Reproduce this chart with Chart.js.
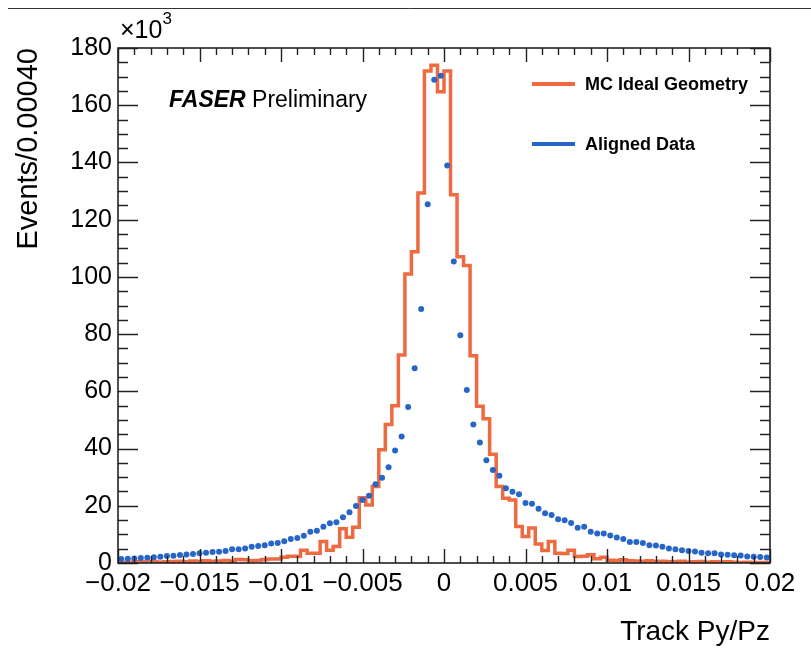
<!DOCTYPE html>
<html>
<head>
<meta charset="utf-8">
<script src="https://cdn.jsdelivr.net/npm/chart.js@4.4.0/dist/chart.umd.min.js"></script>
<style>
  html, body { margin: 0; padding: 0; background: #fff; }
  #wrap { width: 811px; height: 651px; }
</style>
</head>
<body>
<div id="wrap"><canvas id="chart" width="811" height="651"></canvas></div>
<script>
// binning: 100 bins of 0.0004 from -0.02 to 0.02
const binLow = -0.02;
const binWidth = 0.0004;

// MC ideal geometry, events per bin (x10^3)
const mcCounts = [
  0.2, 0.3, 0.2, 0.3, 0.4, 0.3, 0.5, 0.3, 0.4, 0.5,
  0.6, 0.4, 0.7, 0.5, 0.8, 0.6, 0.7, 0.9, 0.6, 1.2,
  1.1, 0.8, 0.9, 1.2, 1.4, 1.4, 2.0, 2.4, 2.4, 4.5,
  3.4, 3.4, 7.5, 4.5, 5.8, 12.0, 9.0, 12.5, 22.8, 20.3,
  26.7, 39.6, 48.4, 55.0, 72.7, 101.0, 108.8, 129.3, 172.0, 174.0,
  164.7, 172.0, 128.7, 107.0, 104.0, 72.4, 54.8, 50.4, 38.0, 26.7,
  22.6, 22.0, 12.8, 9.3, 12.2, 6.6, 4.4, 7.5, 3.4, 3.3,
  4.5, 2.3, 2.4, 2.9, 1.5, 2.0, 1.0, 0.9, 1.1, 0.8,
  0.7, 0.6, 0.8, 0.5, 0.6, 0.4, 0.5, 0.6, 0.3, 0.4,
  0.5, 0.3, 0.4, 0.3, 0.4, 0.3, 0.2, 0.3, 0.2, 0.2
];

// aligned data, events per bin (x10^3)
const dataCounts = [
  1.4, 1.5, 1.6, 1.75, 1.85, 2.0, 2.2, 2.45, 2.55, 2.8,
  3.0, 3.15, 3.4, 3.6, 3.85, 3.95, 4.2, 4.8, 4.8, 5.1,
  5.7, 5.95, 6.2, 6.85, 7.0, 7.6, 8.4, 8.75, 9.55, 10.95,
  11.3, 12.7, 13.9, 14.2, 16.0, 17.7, 19.9, 22.0, 23.5, 27.5,
  29.8, 33.5, 39.3, 44.2, 54.5, 68.1, 88.8, 125.4, 168.9, 170.3,
  138.9, 105.4, 79.6, 60.5, 48.4, 42.1, 35.9, 32.5, 30.5, 26.1,
  24.9, 24.0, 21.0, 20.7, 19.0, 17.4, 16.8, 15.3, 14.9, 14.0,
  12.3, 12.7, 10.9, 10.3, 10.3, 9.6, 8.9, 8.4, 7.3, 7.3,
  7.0, 6.2, 6.1, 5.7, 5.1, 4.8, 4.5, 4.2, 4.0, 3.6,
  3.4, 3.4, 3.0, 2.9, 2.7, 2.6, 2.3, 2.2, 2.1, 1.9
];

const xTickValues = [-0.02, -0.015, -0.01, -0.005, 0, 0.005, 0.01, 0.015, 0.02];
const xTickLabels = ['\u22120.02', '\u22120.015', '\u22120.01', '\u22120.005', '0', '0.005', '0.01', '0.015', '0.02'];
const yTickValues = [0, 20, 40, 60, 80, 100, 120, 140, 160, 180];

const seriesLabels = ['MC Ideal Geometry', 'Aligned Data'];
const seriesColors = ['#ee6a40', '#2766c8'];

// histogram outline: one point per left bin edge, plus closing edge
const mcSteps = mcCounts.map((v, i) => ({ x: binLow + i * binWidth, y: v }));
mcSteps.push({ x: binLow + mcCounts.length * binWidth, y: mcCounts[mcCounts.length - 1] });

const dataPoints = dataCounts.map((v, i) => ({ x: binLow + (i + 0.5) * binWidth, y: v }));

const FONT = "'Liberation Sans', Arial, Helvetica, sans-serif";

// ROOT-like frame, inward ticks, legend and labels
const rootStyle = {
  id: 'rootStyle',
  beforeDraw(chart) {
    const ctx = chart.ctx;
    ctx.save();
    ctx.fillStyle = '#fff';
    ctx.fillRect(0, 0, chart.width, chart.height);
    ctx.strokeStyle = '#333';
    ctx.lineWidth = 1;
    ctx.beginPath();
    ctx.moveTo(8, 8.5);
    ctx.lineTo(chart.width, 8.5);
    ctx.stroke();
    ctx.restore();
  },
  afterDatasetsDraw(chart) {
    const { ctx, chartArea: a, scales: { x, y } } = chart;
    ctx.save();
    ctx.strokeStyle = '#222';
    ctx.lineWidth = 1.4;
    ctx.beginPath();
    // x ticks every 0.001, major every 0.005
    for (let k = 0; k <= 40; k++) {
      const px = Math.round(x.getPixelForValue(-0.02 + k * 0.001)) + 0.5;
      const len = k % 5 === 0 ? 14 : 7;
      ctx.moveTo(px, a.bottom); ctx.lineTo(px, a.bottom - len);
      ctx.moveTo(px, a.top); ctx.lineTo(px, a.top + len);
    }
    // y ticks every 5, major every 20
    for (let v = 0; v <= 180; v += 5) {
      const py = Math.round(y.getPixelForValue(v)) + 0.5;
      const len = v % 20 === 0 ? 20 : 10;
      ctx.moveTo(a.left, py); ctx.lineTo(a.left + len, py);
      ctx.moveTo(a.right, py); ctx.lineTo(a.right - len, py);
    }
    ctx.stroke();
    ctx.lineWidth = 1.6;
    ctx.strokeRect(a.left, a.top, a.right - a.left, a.bottom - a.top);

    // legend
    const rows = [84, 144];
    ctx.lineWidth = 4;
    ctx.textBaseline = 'middle';
    ctx.textAlign = 'left';
    ctx.font = 'bold 18px ' + FONT;
    rows.forEach((ry, i) => {
      ctx.strokeStyle = seriesColors[i];
      ctx.beginPath();
      ctx.moveTo(532, ry); ctx.lineTo(575, ry);
      ctx.stroke();
      ctx.fillStyle = '#000';
      ctx.fillText(seriesLabels[i], 585, ry + 1);
    });

    // FASER Preliminary
    ctx.textBaseline = 'alphabetic';
    ctx.font = 'italic bold 23px ' + FONT;
    ctx.fillText('FASER', 169, 107);
    const w = ctx.measureText('FASER ').width;
    ctx.font = '23px ' + FONT;
    ctx.fillText('Preliminary', 169 + w, 107);

    // exponent label
    ctx.font = '25px ' + FONT;
    ctx.fillText('\u00d710', 120, 38);
    const ew = ctx.measureText('\u00d710').width;
    ctx.font = '17px ' + FONT;
    ctx.fillText('3', 120 + ew, 24);
    ctx.restore();
  }
};

const ctx = document.getElementById('chart').getContext('2d');
const chart = new Chart(ctx, {
  data: {
    datasets: [
      {
        type: 'scatter',
        label: seriesLabels[1],
        data: dataPoints,
        pointRadius: 3,
        pointBackgroundColor: seriesColors[1],
        pointBorderWidth: 0,
        order: 0
      },
      {
        type: 'line',
        label: seriesLabels[0],
        data: mcSteps,
        stepped: 'after',
        borderColor: seriesColors[0],
        borderWidth: 3.5,
        pointRadius: 0,
        fill: false,
        order: 1
      }
    ]
  },
  options: {
    responsive: false,
    animation: false,
    layout: { padding: { left: 0, top: 48, right: 41, bottom: 0 } },
    plugins: {
      legend: { display: false },
      tooltip: { enabled: false }
    },
    scales: {
      x: {
        type: 'linear',
        min: -0.02,
        max: 0.02,
        afterBuildTicks: s => { s.ticks = xTickValues.map(v => ({ value: v })); },
        afterFit: s => { s.height = 88; },
        grid: { display: false, drawTicks: false },
        border: { display: false },
        ticks: {
          autoSkip: false,
          maxRotation: 0,
          minRotation: 0,
          padding: 5,
          color: '#000',
          font: { family: FONT, size: 26 },
          callback: (v) => {
            const i = xTickValues.findIndex(t => Math.abs(t - v) < 1e-9);
            return i >= 0 ? xTickLabels[i] : '';
          }
        },
        title: {
          display: true,
          text: 'Track Py/Pz',
          align: 'end',
          color: '#000',
          font: { family: FONT, size: 28 },
          padding: { top: 0, bottom: 2 }
        }
      },
      y: {
        type: 'linear',
        min: 0,
        max: 180,
        afterBuildTicks: s => { s.ticks = yTickValues.map(v => ({ value: v })); },
        afterFit: s => { s.width = 118; },
        grid: { display: false, drawTicks: false },
        border: { display: false },
        ticks: {
          padding: 6,
          color: '#000',
          font: { family: FONT, size: 25 },
          callback: v => String(v)
        },
        title: {
          display: true,
          text: 'Events/0.00040',
          align: 'end',
          color: '#000',
          font: { family: FONT, size: 29 },
          padding: { top: 12, bottom: 0 }
        }
      }
    }
  },
  plugins: [rootStyle]
});
</script>
</body>
</html>
